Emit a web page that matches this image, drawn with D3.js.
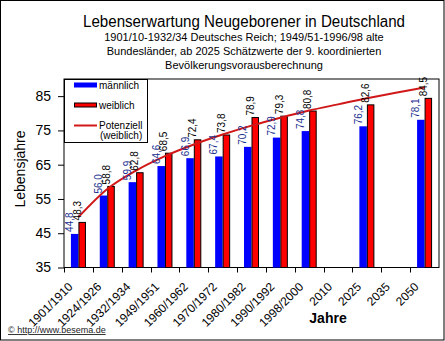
<!DOCTYPE html>
<html>
<head>
<meta charset="utf-8">
<script src="https://cdn.jsdelivr.net/npm/d3@7"></script>
<style>
  body { margin: 0; background: #fff; }
  text { font-family: "Liberation Sans", Arial, sans-serif; }
</style>
</head>
<body>
<div id="chart"></div>
<script>
// data
categories = ["1901/1910", "1924/1926", "1932/1934", "1949/1951", "1960/1962", "1970/1972",
              "1980/1982", "1990/1992", "1998/2000", "2010", "2025", "2035", "2050"]
maennlich = [44.8, 56.0, 59.9, 64.6, 66.9, 67.4, 70.2, 72.9, 74.8, null, 76.2, null, 78.1]
weiblich  = [48.3, 58.8, 62.8, 68.5, 72.4, 73.8, 78.9, 79.3, 80.8, null, 82.6, null, 84.5]
// power trend line (weiblich), read at each category
potenziell = [49.7, 57.9, 63.3, 67.5, 70.9, 73.8, 76.4, 78.7, 80.8, 82.6, 84.4, 86.0, 87.5]
yTicks = [35, 45, 55, 65, 75, 85]

width = 445
height = 341
plot = ({left: 64, right: 439, top: 79, bottom: 267.5})
fmt = v => String(v.toFixed(1)).replace(".", ",")

svg = d3.select("#chart").append("svg")
  .attr("width", width)
  .attr("height", height)

svg.append("rect")
  .attr("x", 0.5).attr("y", 0.5)
  .attr("width", width - 1.5).attr("height", height - 1.5)
  .attr("fill", "#fff").attr("stroke", "#000")

// titles
svg.append("text")
  .attr("x", 244).attr("y", 27)
  .attr("text-anchor", "middle")
  .attr("textLength", 322).attr("lengthAdjust", "spacingAndGlyphs")
  .style("font-size", "16px")
  .text("Lebenserwartung Neugeborener in Deutschland")

subLines = ["1901/10-1932/34 Deutsches Reich; 1949/51-1996/98 alte",
            "Bundesländer, ab 2025 Schätzwerte der 9. koordinierten",
            "Bevölkerungsvorausberechnung"]
svg.selectAll(".sub")
  .data(subLines)
  .enter().append("text")
  .attr("class", "sub")
  .attr("x", 244)
  .attr("y", (d, i) => [40.5, 55, 69][i])
  .attr("text-anchor", "middle")
  .style("font-size", "11px")
  .text(d => d)

x = d3.scaleBand()
  .domain(categories)
  .range([plot.left, plot.right])
  .padding(0)

series = ["m", "w"]
barW = 7.5
x1 = d3.scaleBand()
  .domain(series)
  .range([(x.bandwidth() - 2 * barW) / 2, (x.bandwidth() + 2 * barW) / 2])

y = d3.scaleLinear()
  .domain([35, 90])
  .range([plot.bottom, plot.top])

// plot frame
svg.append("rect")
  .attr("x", plot.left).attr("y", plot.top)
  .attr("width", plot.right - plot.left).attr("height", plot.bottom - plot.top)
  .attr("fill", "#fff").attr("stroke", "#000")

rows = categories.map((c, i) => ({cat: c, m: maennlich[i], w: weiblich[i]}))

// bars
g = svg.append("g")
g.selectAll(".bm")
  .data(rows.filter(d => d.m != null))
  .enter().append("rect")
  .attr("x", d => x(d.cat) + x1("m"))
  .attr("y", d => y(d.m))
  .attr("width", x1.bandwidth())
  .attr("height", d => y(35) - y(d.m))
  .attr("fill", "#0000ff")

g.selectAll(".bw")
  .data(rows.filter(d => d.w != null))
  .enter().append("rect")
  .attr("x", d => x(d.cat) + x1("w") + 0.5)
  .attr("y", d => y(d.w) + 0.5)
  .attr("width", x1.bandwidth() - 1)
  .attr("height", d => y(35) - y(d.w) - 0.5)
  .attr("fill", "#ff0000")
  .attr("stroke", "#000")
  .attr("stroke-width", 1)

// trend line
line = d3.line()
  .x((d, i) => x(categories[i]) + x.bandwidth() / 2)
  .y(d => y(d))
  .curve(d3.curveMonotoneX)

svg.append("path")
  .datum(potenziell)
  .attr("d", line)
  .attr("fill", "none")
  .attr("stroke", "#d01818")
  .attr("stroke-width", 2)

// value labels
svg.selectAll(".lm")
  .data(rows.filter(d => d.m != null))
  .enter().append("text")
  .attr("transform", d => `translate(${x(d.cat) + x1("m") + barW / 2 - 1.5},${y(d.m) - 2}) rotate(-90)`)
  .style("font-size", "10px")
  .attr("fill", "#1a2f8f")
  .text(d => fmt(d.m))

svg.selectAll(".lw")
  .data(rows.filter(d => d.w != null))
  .enter().append("text")
  .attr("transform", d => `translate(${x(d.cat) + x1("w") + barW / 2 - 1.5},${y(d.w) - 1.5}) rotate(-90)`)
  .style("font-size", "10px")
  .attr("fill", "#000")
  .text(d => fmt(d.w))

// axes
yAxis = d3.axisLeft(y)
  .tickValues(yTicks)
  .tickSize(6)
  .tickPadding(7)
svg.append("g")
  .attr("transform", `translate(${plot.left},0)`)
  .call(yAxis)
  .call(g => g.select(".domain").remove())
  .selectAll("text")
  .style("font-family", "'Liberation Sans', Arial, sans-serif")
  .style("font-size", "14px")

svg.append("g")
  .selectAll("line")
  .data(categories)
  .enter().append("line")
  .attr("x1", d => Math.round(x(d)) + 0.5)
  .attr("x2", d => Math.round(x(d)) + 0.5)
  .attr("y1", plot.bottom)
  .attr("y2", plot.bottom + 5)
  .attr("stroke", "#000")

svg.append("g")
  .selectAll("text")
  .data(categories)
  .enter().append("text")
  .attr("transform", d => `translate(${x(d) + x.bandwidth() / 2 - 5},${plot.bottom + 20}) rotate(-45)`)
  .attr("text-anchor", "end")
  .style("font-size", "12px")
  .text(d => d)

svg.append("text")
  .attr("transform", "translate(25,169) rotate(-90)")
  .attr("text-anchor", "middle")
  .style("font-size", "14px")
  .text("Lebensjahre")

svg.append("text")
  .attr("x", 328).attr("y", 323)
  .attr("text-anchor", "middle")
  .style("font-size", "14px")
  .style("font-weight", "bold")
  .text("Jahre")

// legend
legendItems = [
  {name: "männlich", kind: "m"},
  {name: "weiblich", kind: "w"},
  {name: "Potenziell", kind: "t"}
]
lg = svg.append("g")
lg.append("rect")
  .attr("x", plot.left + 0.5).attr("y", plot.top + 0.5)
  .attr("width", 83).attr("height", 63)
  .attr("fill", "#fff").attr("stroke", "#000")

entry = lg.selectAll(".entry")
  .data(legendItems)
  .enter().append("g")
  .attr("transform", (d, i) => `translate(74,${[85, 105, 125.5][i]})`)

entry.filter(d => d.kind == "m").append("rect")
  .attr("x", 0).attr("y", -2.5).attr("width", 23).attr("height", 5)
  .attr("fill", "#0000ff")
entry.filter(d => d.kind == "w").append("rect")
  .attr("x", 0.5).attr("y", -2).attr("width", 22).attr("height", 4)
  .attr("fill", "#ff0000").attr("stroke", "#000")
entry.filter(d => d.kind == "t").append("line")
  .attr("x1", 0).attr("x2", 23).attr("y1", 0).attr("y2", 0)
  .attr("stroke", "#d01818").attr("stroke-width", 2)

entry.append("text")
  .attr("x", 25).attr("y", 3.5)
  .style("font-size", "10px")
  .text(d => d.name)
lg.append("text")
  .attr("x", 100).attr("y", 139)
  .style("font-size", "10px")
  .text("(weiblich)")

svg.append("text")
  .attr("x", 8).attr("y", 333)
  .style("font-size", "9px")
  .style("text-decoration", "underline")
  .attr("fill", "#222")
  .text("© http://www.besema.de")
</script>
</body>
</html>
